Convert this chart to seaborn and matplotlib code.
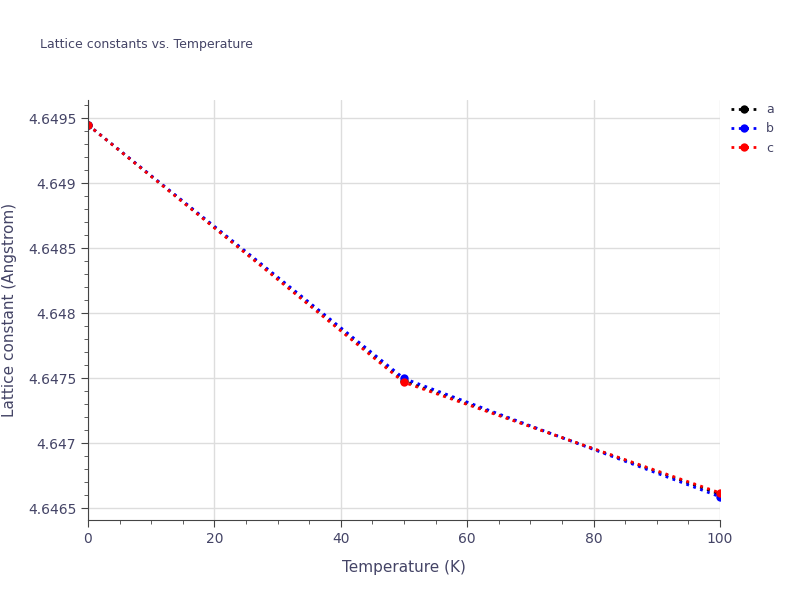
import matplotlib
matplotlib.use("Agg")
import matplotlib.pyplot as plt
import seaborn as sns
import pandas as pd
from matplotlib.ticker import MultipleLocator, FormatStrFormatter

temps = [0, 50, 100]
a_vals = [4.64945, 4.64748, 4.64661]
b_vals = [4.64945, 4.64750, 4.64659]
c_vals = [4.64945, 4.64747, 4.64662]
series = {"a": (a_vals, "black"), "b": (b_vals, "blue"), "c": (c_vals, "red")}

sns.set_style("white")
fig = plt.figure(figsize=(8, 6), dpi=100)
ax = fig.add_axes([0.11, 0.133, 0.79, 0.70])
for name, (vals, col) in series.items():
    df = pd.DataFrame({"T": temps, "L": vals})
    sns.lineplot(data=df, x="T", y="L", ax=ax, color=col, linestyle=":", linewidth=2,
                 marker="o", markersize=6, markeredgewidth=0, label=name)
ax.set_xlim(0, 100)
ax.set_ylim(4.64641, 4.64964)
ax.xaxis.set_major_locator(MultipleLocator(20))
ax.yaxis.set_major_locator(MultipleLocator(0.0005))
ax.yaxis.set_minor_locator(MultipleLocator(0.0001))
ax.xaxis.set_minor_locator(MultipleLocator(5))
ax.yaxis.set_major_formatter(matplotlib.ticker.FuncFormatter(lambda v, p: f"{v:.4f}".rstrip("0")))
ax.grid(True, which="major", color="#dddddd", linewidth=1)
for s in ["top", "right"]:
    ax.spines[s].set_visible(False)
for s in ["left", "bottom"]:
    ax.spines[s].set_color("#444444")
ax.tick_params(which="both", direction="out", color="#444444", labelcolor="#444466", labelsize=10)
ax.tick_params(which="major", length=5, left=True, bottom=True)
ax.tick_params(which="minor", length=3, left=True, bottom=True)
ax.set_xlabel("Temperature (K)", fontsize=11, color="#444466", labelpad=10)
ax.set_ylabel("Lattice constant (Angstrom)", fontsize=11, color="#444466", labelpad=8)
fig.text(0.05, 0.92, "Lattice constants vs. Temperature", fontsize=9, color="#444466")
leg = ax.legend(loc="upper left", bbox_to_anchor=(1.0, 1.02), frameon=False, fontsize=9, handlelength=2)
for t in leg.get_texts():
    t.set_color("#444466")
fig.savefig("out.png", dpi=100)
